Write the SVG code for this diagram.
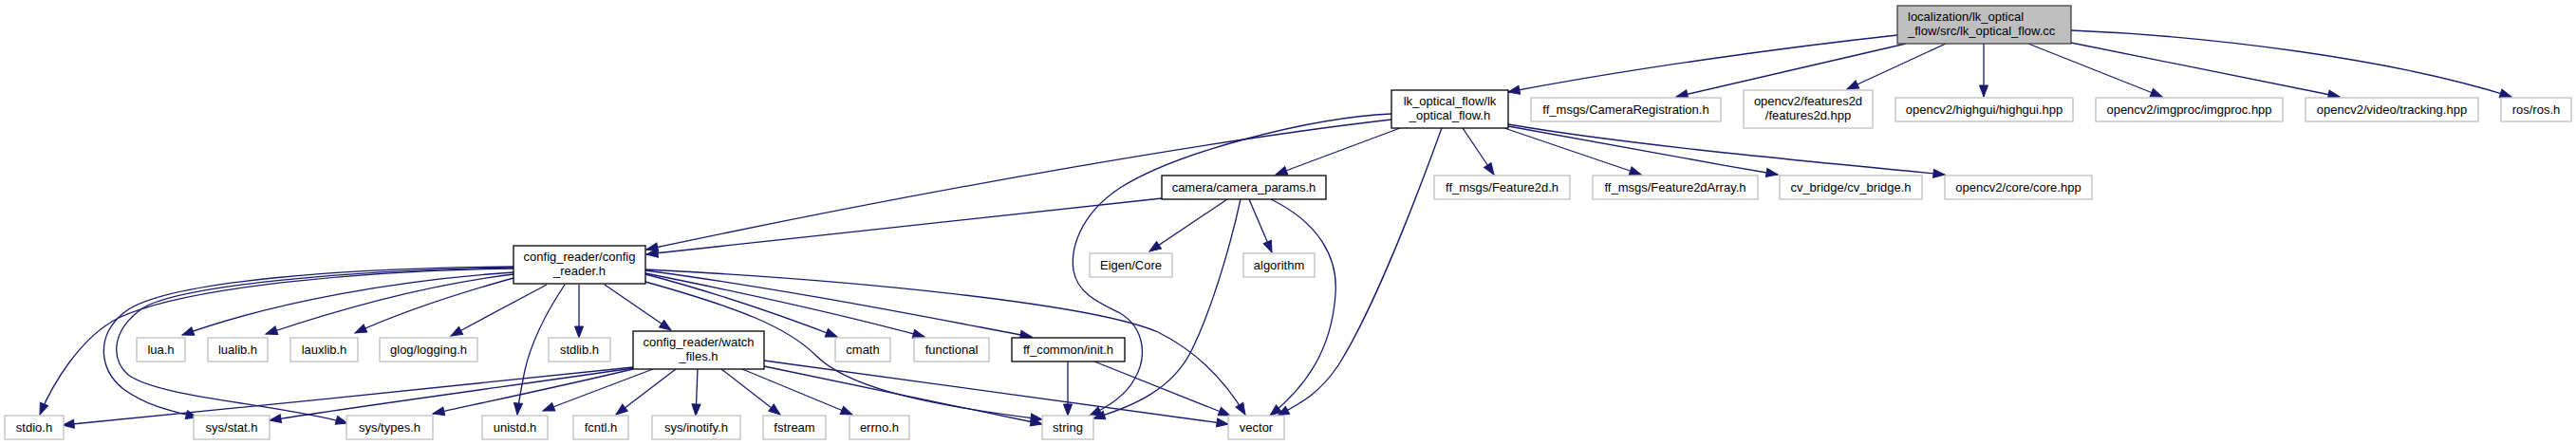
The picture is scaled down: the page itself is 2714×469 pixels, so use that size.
<svg xmlns="http://www.w3.org/2000/svg" width="2714" height="469" viewBox="0 0 2714 469">
<style>
.n rect{fill:#fff;stroke:#bfbfbf;stroke-width:1.3}
.d rect{fill:#fff;stroke:#000;stroke-width:1.3}
.r rect{fill:#bfbfbf;stroke:#404040;stroke-width:1.3}
text{font-family:"Liberation Sans",Arial,sans-serif;font-size:13px;fill:#000;text-anchor:middle}
.e path{fill:none;stroke:#191970;stroke-width:1.3;marker-end:url(#a)}
</style>
<defs>
<marker id="a" markerWidth="14" markerHeight="12" refX="12" refY="5" orient="auto" markerUnits="userSpaceOnUse" overflow="visible">
<path d="M0,0.5 L12,5 L0,9.5 z" fill="#191970" stroke="#191970" stroke-width="1"/>
</marker>
</defs>
<rect width="2714" height="469" fill="#fff"/>
<g id="connectors" class="e">
<path d="M1999,37 C1880,50 1720,72 1589,97"/>
<path d="M2008,46 L1766,102"/>
<path d="M2050,46 L1946,94"/>
<path d="M2090,46 L2090,102"/>
<path d="M2137,46 L2278,102"/>
<path d="M2182,45 L2465,102"/>
<path d="M2182,32 C2330,38 2520,62 2646,102"/>
<path d="M1466,126 C1300,145 1000,195 681,263"/>
<path d="M1466,120 C1380,124 1240,160 1180,198 C1135,228 1128,265 1131,285 C1135,310 1160,320 1180,330 C1205,345 1210,375 1195,400 C1185,418 1165,430 1148,438"/>
<path d="M1475,135 L1344,184"/>
<path d="M1519,135 C1490,215 1445,330 1410,385 C1390,415 1370,425 1346,438"/>
<path d="M1541,135 L1574,184"/>
<path d="M1585,135 L1729,184"/>
<path d="M1589,133 C1690,152 1780,168 1873,184"/>
<path d="M1589,131 C1700,150 1850,165 2049,184"/>
<path d="M1224,209 L681,268"/>
<path d="M1293,210 L1211,265"/>
<path d="M1307,210 C1295,265 1275,330 1255,370 C1235,410 1195,428 1152,441"/>
<path d="M1316,210 L1340,266"/>
<path d="M1339,210 C1390,235 1410,272 1407,310 C1403,370 1375,408 1338,438"/>
<path d="M541,283 C400,285 200,300 125,335 C85,355 55,405 42,437"/>
<path d="M541,281 C380,282 170,295 130,330 C100,355 105,390 130,410 C155,428 180,433 208,440"/>
<path d="M541,282 C380,284 190,300 150,325 C115,350 118,380 135,395 C170,420 290,425 366,446"/>
<path d="M595,300 C575,330 560,360 553,390 C548,415 546,425 545,437"/>
<path d="M541,287 C420,295 290,318 192,353"/>
<path d="M541,289 C450,300 360,325 280,352"/>
<path d="M541,293 C480,310 420,330 374,351"/>
<path d="M576,300 L475,354"/>
<path d="M610,300 L610,356"/>
<path d="M637,300 L707,348"/>
<path d="M680,289 C760,310 830,335 882,355"/>
<path d="M680,288 C790,310 900,335 974,355"/>
<path d="M680,285 C830,305 980,335 1087,355"/>
<path d="M680,297 C780,325 830,345 860,375 C890,405 960,425 1098,442"/>
<path d="M680,284 C900,295 1150,320 1220,350 C1260,370 1290,400 1312,437"/>
<path d="M667,387 C500,405 250,430 66,448"/>
<path d="M667,388 C550,405 400,425 284,443"/>
<path d="M667,389 C600,405 520,422 456,436"/>
<path d="M688,389 L572,433"/>
<path d="M712,389 L649,437"/>
<path d="M735,389 L733,438"/>
<path d="M760,389 L822,437"/>
<path d="M782,389 L898,437"/>
<path d="M805,386 L1098,447"/>
<path d="M805,380 L1294,447"/>
<path d="M1125,381 L1125,438"/>
<path d="M1153,381 L1296,438"/>
</g>
<g id="root" class="r"><rect x="1999" y="6" width="183" height="40"/><text x="2010" y="22" style="text-anchor:start">localization/lk_optical</text><text x="2010" y="37" style="text-anchor:start">_flow/src/lk_optical_flow.cc</text></g>
<g id="lk_optical_flow_h" class="d"><rect x="1466" y="95" width="123" height="40"/><text x="1527.5" y="111">lk_optical_flow/lk</text><text x="1527.5" y="126">_optical_flow.h</text></g>
<g id="camera_registration" class="n"><rect x="1613" y="103" width="200" height="25"/><text x="1713" y="120">ff_msgs/CameraRegistration.h</text></g>
<g id="features2d" class="n"><rect x="1837" y="95" width="136" height="40"/><text x="1905" y="111">opencv2/features2d</text><text x="1905" y="126">/features2d.hpp</text></g>
<g id="highgui" class="n"><rect x="1997" y="103" width="187" height="25"/><text x="2090.5" y="120">opencv2/highgui/highgui.hpp</text></g>
<g id="imgproc" class="n"><rect x="2208" y="103" width="197" height="25"/><text x="2306.5" y="120">opencv2/imgproc/imgproc.hpp</text></g>
<g id="tracking" class="n"><rect x="2429" y="103" width="182" height="25"/><text x="2520" y="120">opencv2/video/tracking.hpp</text></g>
<g id="ros_h" class="n"><rect x="2635" y="103" width="74" height="25"/><text x="2672" y="120">ros/ros.h</text></g>
<g id="camera_params" class="d"><rect x="1224" y="185" width="173" height="25"/><text x="1310.5" y="202">camera/camera_params.h</text></g>
<g id="feature2d" class="n"><rect x="1511" y="185" width="143" height="25"/><text x="1582.5" y="202">ff_msgs/Feature2d.h</text></g>
<g id="feature2darray" class="n"><rect x="1678" y="185" width="174" height="25"/><text x="1765" y="202">ff_msgs/Feature2dArray.h</text></g>
<g id="cv_bridge" class="n"><rect x="1875" y="185" width="150" height="25"/><text x="1950" y="202">cv_bridge/cv_bridge.h</text></g>
<g id="core" class="n"><rect x="2049" y="185" width="155" height="25"/><text x="2126.5" y="202">opencv2/core/core.hpp</text></g>
<g id="config_reader" class="d"><rect x="541" y="259" width="139" height="40"/><text x="610.5" y="275">config_reader/config</text><text x="610.5" y="290">_reader.h</text></g>
<g id="eigen" class="n"><rect x="1148" y="267" width="87" height="25"/><text x="1191.5" y="284">Eigen/Core</text></g>
<g id="algorithm" class="n"><rect x="1310" y="267" width="75" height="25"/><text x="1347.5" y="284">algorithm</text></g>
<g id="lua_h" class="n"><rect x="144" y="356" width="51" height="25"/><text x="169.5" y="373">lua.h</text></g>
<g id="lualib_h" class="n"><rect x="219" y="356" width="63" height="25"/><text x="250.5" y="373">lualib.h</text></g>
<g id="lauxlib_h" class="n"><rect x="306" y="356" width="71" height="25"/><text x="341.5" y="373">lauxlib.h</text></g>
<g id="glog" class="n"><rect x="400" y="356" width="103" height="25"/><text x="451.5" y="373">glog/logging.h</text></g>
<g id="stdlib_h" class="n"><rect x="578" y="356" width="65" height="25"/><text x="610.5" y="373">stdlib.h</text></g>
<g id="watch_files" class="d"><rect x="667" y="349" width="138" height="40"/><text x="736" y="365">config_reader/watch</text><text x="736" y="380">_files.h</text></g>
<g id="cmath" class="n"><rect x="880" y="356" width="58" height="25"/><text x="909" y="373">cmath</text></g>
<g id="functional" class="n"><rect x="963" y="356" width="79" height="25"/><text x="1002.5" y="373">functional</text></g>
<g id="init_h" class="d"><rect x="1066" y="356" width="119" height="25"/><text x="1125.5" y="373">ff_common/init.h</text></g>
<g id="stdio_h" class="n"><rect x="5" y="438" width="62" height="25"/><text x="36" y="455">stdio.h</text></g>
<g id="sys_stat" class="n"><rect x="204" y="438" width="80" height="25"/><text x="244" y="455">sys/stat.h</text></g>
<g id="sys_types" class="n"><rect x="365" y="438" width="91" height="25"/><text x="410.5" y="455">sys/types.h</text></g>
<g id="unistd_h" class="n"><rect x="508" y="438" width="69" height="25"/><text x="542.5" y="455">unistd.h</text></g>
<g id="fcntl_h" class="n"><rect x="604" y="438" width="58" height="25"/><text x="633" y="455">fcntl.h</text></g>
<g id="inotify" class="n"><rect x="687" y="438" width="93" height="25"/><text x="733.5" y="455">sys/inotify.h</text></g>
<g id="fstream" class="n"><rect x="804" y="438" width="66" height="25"/><text x="837" y="455">fstream</text></g>
<g id="errno_h" class="n"><rect x="895" y="438" width="63" height="25"/><text x="926.5" y="455">errno.h</text></g>
<g id="string" class="n"><rect x="1098" y="438" width="54" height="25"/><text x="1125" y="455">string</text></g>
<g id="vector" class="n"><rect x="1294" y="438" width="59" height="25"/><text x="1323.5" y="455">vector</text></g>
</svg>
